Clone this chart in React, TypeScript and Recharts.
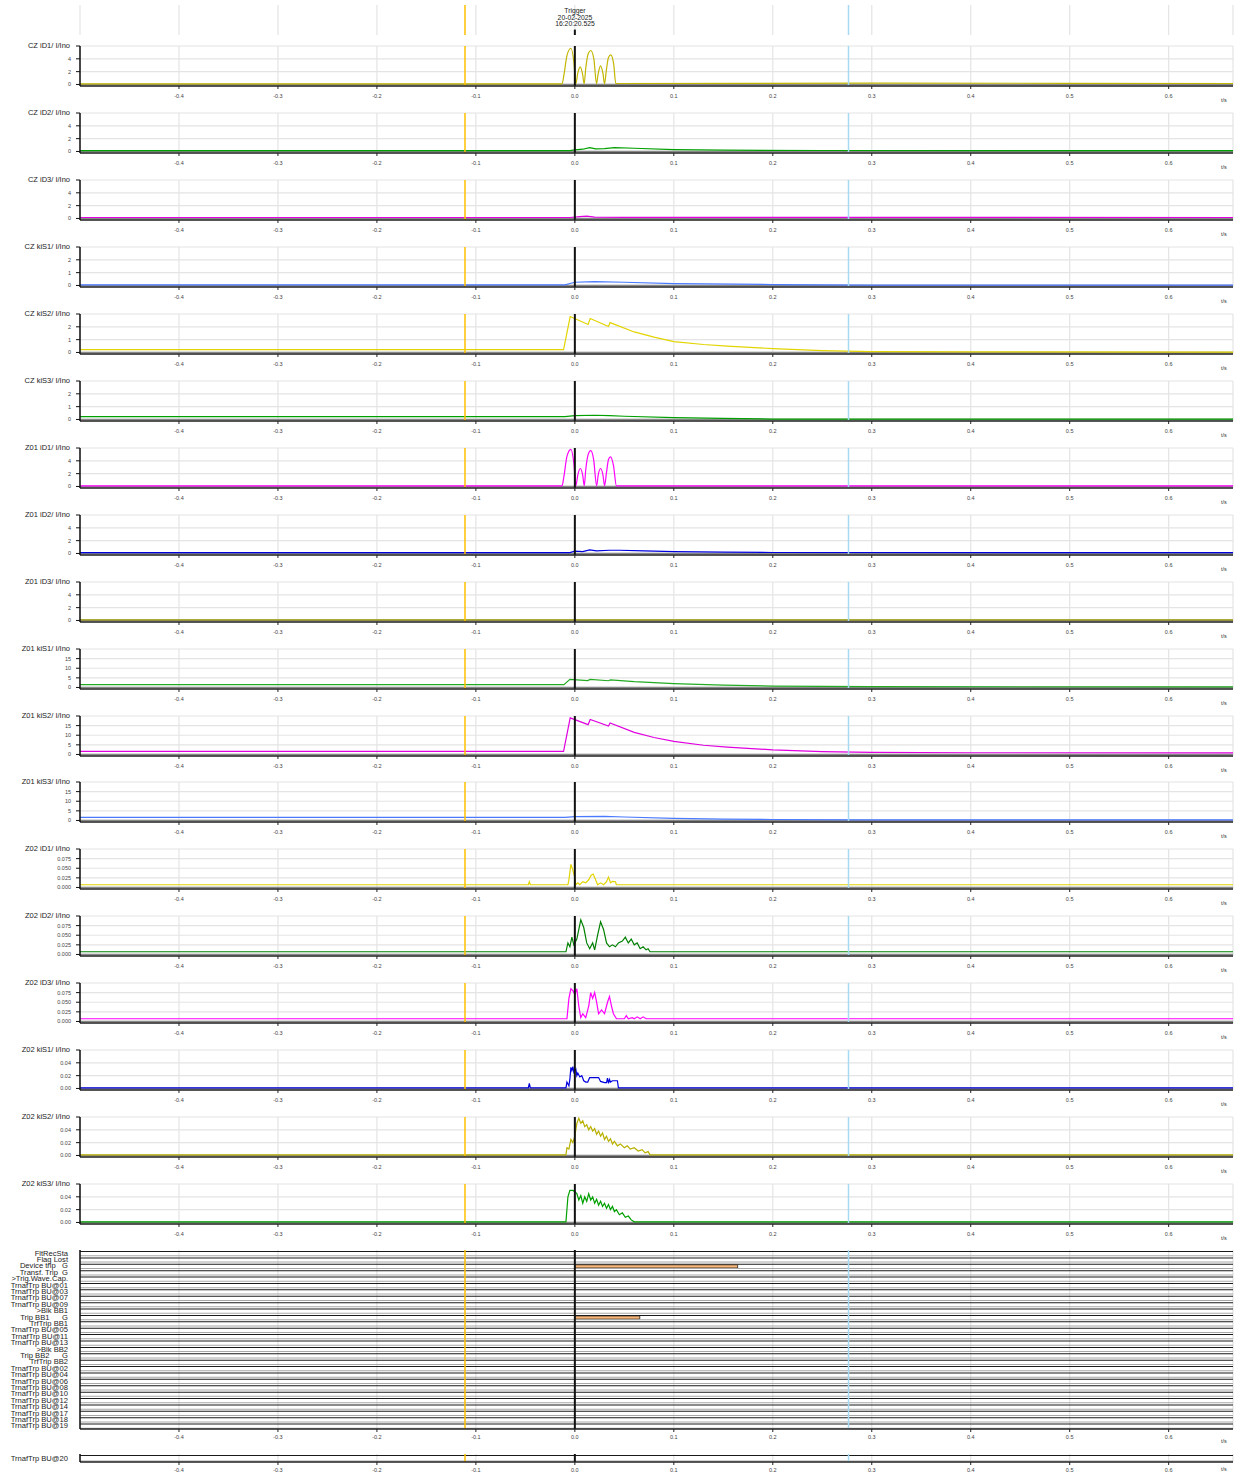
import React from "react";
import { Bar, BarChart, CartesianGrid, Line, LineChart, ReferenceLine, XAxis, YAxis } from "recharts";

// time axis (s), shared by every panel
const timeDomain = [-0.5, 0.665];
const xTicks = [-0.4, -0.3, -0.2, -0.1, 0, 0.1, 0.2, 0.3, 0.4, 0.5, 0.6];
const cursorA = -0.111; // orange cursor
const cursorB = 0.2765; // light blue cursor
const triggerT = 0;
const triggerText = ["Trigger", "20-02-2025", "16:20:20.525"];

// y ticks per panel type
const iDTicks = [0, 2, 4, 6];
const czKiTicks = [0, 1, 2, 3];
const z01KiTicks = [0, 5, 10, 15, 20];
const z02IdTicks = [0, 0.025, 0.05, 0.075, 0.1];
const z02KiTicks = [0, 0.02, 0.04, 0.06];

// [t, value] samples
const czId1 = [[-0.5, 0.08], [-0.013, 0.08], [-0.011, 1.5], [-0.008, 4.5], [-0.004, 5.65], [-0.001, 3.5], [0.001, 0.1], [0.003, 1.8], [0.0054, 2.75], [0.0078, 1.6], [0.0094, 0.1], [0.011, 2.5], [0.0135, 4.8], [0.0161, 5.3], [0.0192, 4.0], [0.0219, 0.1], [0.0235, 1.6], [0.0259, 2.9], [0.0283, 1.8], [0.03, 0.1], [0.0318, 2.2], [0.034, 4.2], [0.0363, 4.6], [0.0392, 3.2], [0.0414, 0.15], [0.3, 0.2], [0.665, 0.15]];
const czId2 = [[-0.5, 0.12], [-0.005, 0.12], [0.0, 0.25], [0.008, 0.35], [0.015, 0.6], [0.021, 0.4], [0.03, 0.45], [0.04, 0.6], [0.06, 0.5], [0.1, 0.3], [0.15, 0.2], [0.25, 0.15], [0.665, 0.12]];
const czId3 = [[-0.5, 0.15], [-0.005, 0.15], [0.005, 0.3], [0.012, 0.35], [0.02, 0.2], [0.05, 0.18], [0.665, 0.15]];
const czKiS1 = [[-0.5, 0.05], [-0.01, 0.05], [0.0, 0.25], [0.02, 0.3], [0.05, 0.25], [0.1, 0.15], [0.2, 0.07], [0.3, 0.03], [0.665, 0.02]];
const czKiS2 = [[-0.5, 0.22], [-0.0114, 0.22], [-0.0047, 2.8], [0.0134, 2.18], [0.0155, 2.65], [0.034, 2.03], [0.0356, 2.33], [0.06, 1.6], [0.08, 1.2], [0.1, 0.85], [0.13, 0.62], [0.154, 0.5], [0.2, 0.3], [0.25, 0.15], [0.3, 0.07], [0.4, 0.04], [0.665, 0.03]];
const czKiS3 = [[-0.5, 0.22], [-0.01, 0.22], [0.0, 0.3], [0.02, 0.33], [0.035, 0.3], [0.05, 0.25], [0.1, 0.15], [0.15, 0.08], [0.2, 0.03], [0.665, 0.02]];
const z01Id1 = [[-0.5, 0.08], [-0.013, 0.08], [-0.011, 1.6], [-0.008, 4.7], [-0.004, 5.8], [-0.001, 3.6], [0.001, 0.1], [0.003, 1.8], [0.0055, 2.8], [0.008, 1.7], [0.0095, 0.1], [0.011, 2.6], [0.0135, 5.0], [0.016, 5.6], [0.019, 4.2], [0.022, 0.1], [0.0235, 1.7], [0.026, 2.8], [0.0285, 1.7], [0.03, 0.1], [0.032, 2.2], [0.034, 4.2], [0.036, 4.6], [0.039, 3.3], [0.042, 0.1], [0.665, 0.08]];
const z01Id2 = [[-0.5, 0.12], [-0.005, 0.12], [0.0, 0.35], [0.008, 0.3], [0.015, 0.55], [0.022, 0.4], [0.035, 0.5], [0.045, 0.5], [0.07, 0.4], [0.1, 0.3], [0.15, 0.2], [0.2, 0.15], [0.665, 0.12]];
const z01Id3 = [[-0.5, 0.1], [0.665, 0.1]];
const z01KiS1 = [[-0.5, 1.5], [-0.011, 1.5], [-0.005, 4.2], [0.013, 3.6], [0.0155, 4.2], [0.034, 3.5], [0.036, 3.9], [0.06, 3.0], [0.1, 2.0], [0.15, 1.2], [0.2, 0.7], [0.3, 0.4], [0.665, 0.3]];
const z01KiS2 = [[-0.5, 1.6], [-0.0114, 1.6], [-0.0047, 19], [0.0134, 15.5], [0.0155, 18.2], [0.034, 14.8], [0.0356, 16.4], [0.06, 11.5], [0.08, 8.8], [0.1, 6.8], [0.13, 4.8], [0.154, 3.8], [0.2, 2.4], [0.25, 1.5], [0.3, 1.1], [0.4, 0.9], [0.665, 0.8]];
const z01KiS3 = [[-0.5, 1.6], [-0.01, 1.6], [0.0, 2.0], [0.03, 2.1], [0.05, 1.8], [0.1, 1.1], [0.15, 0.7], [0.2, 0.5], [0.3, 0.35], [0.665, 0.3]];
const z02Id1 = [[-0.5, 0.007], [-0.047, 0.007], [-0.046, 0.015], [-0.045, 0.007], [-0.007, 0.007], [-0.006, 0.02], [-0.004, 0.06], [-0.002, 0.045], [0.0, 0.025], [0.001, 0.007], [0.003, 0.012], [0.005, 0.007], [0.008, 0.015], [0.011, 0.012], [0.014, 0.02], [0.0165, 0.032], [0.0185, 0.035], [0.021, 0.02], [0.023, 0.007], [0.026, 0.012], [0.029, 0.007], [0.032, 0.015], [0.034, 0.027], [0.036, 0.012], [0.038, 0.016], [0.041, 0.015], [0.042, 0.007], [0.665, 0.007]];
const z02Id2 = [[-0.5, 0.007], [-0.009, 0.007], [-0.007, 0.03], [-0.005, 0.02], [-0.003, 0.045], [-0.001, 0.025], [0.002, 0.04], [0.006, 0.09], [0.009, 0.07], [0.012, 0.03], [0.015, 0.015], [0.018, 0.03], [0.02, 0.012], [0.023, 0.05], [0.026, 0.085], [0.029, 0.065], [0.032, 0.03], [0.035, 0.02], [0.038, 0.025], [0.041, 0.02], [0.044, 0.03], [0.048, 0.035], [0.051, 0.045], [0.054, 0.03], [0.057, 0.04], [0.06, 0.025], [0.063, 0.03], [0.066, 0.015], [0.069, 0.02], [0.072, 0.012], [0.074, 0.015], [0.076, 0.007], [0.665, 0.007]];
const z02Id3 = [[-0.5, 0.007], [-0.008, 0.007], [-0.006, 0.06], [-0.004, 0.085], [-0.002, 0.08], [0.0, 0.07], [0.002, 0.085], [0.004, 0.04], [0.006, 0.01], [0.008, 0.02], [0.011, 0.01], [0.014, 0.04], [0.016, 0.075], [0.018, 0.06], [0.02, 0.075], [0.022, 0.05], [0.024, 0.02], [0.027, 0.03], [0.03, 0.02], [0.033, 0.05], [0.035, 0.065], [0.037, 0.04], [0.039, 0.02], [0.042, 0.007], [0.05, 0.007], [0.052, 0.015], [0.054, 0.007], [0.058, 0.01], [0.06, 0.007], [0.063, 0.012], [0.066, 0.007], [0.069, 0.012], [0.072, 0.007], [0.665, 0.007]];
const z02KiS1 = [[-0.5, 0.001], [-0.047, 0.001], [-0.046, 0.008], [-0.045, 0.001], [-0.009, 0.001], [-0.008, 0.01], [-0.006, 0.004], [-0.005, 0.015], [-0.004, 0.033], [-0.003, 0.028], [-0.002, 0.034], [-0.001, 0.025], [0.001, 0.03], [0.002, 0.02], [0.003, 0.024], [0.005, 0.018], [0.007, 0.02], [0.009, 0.012], [0.011, 0.01], [0.013, 0.01], [0.015, 0.017], [0.024, 0.017], [0.026, 0.011], [0.03, 0.009], [0.032, 0.009], [0.033, 0.016], [0.034, 0.008], [0.035, 0.014], [0.036, 0.01], [0.038, 0.012], [0.043, 0.012], [0.044, 0.001], [0.665, 0.001]];
const z02KiS2 = [[-0.5, 0.001], [-0.009, 0.001], [-0.008, 0.012], [-0.006, 0.01], [-0.004, 0.025], [-0.002, 0.02], [0.0, 0.03], [0.002, 0.05], [0.004, 0.058], [0.006, 0.05], [0.008, 0.054], [0.01, 0.045], [0.012, 0.048], [0.014, 0.04], [0.016, 0.045], [0.018, 0.038], [0.02, 0.042], [0.022, 0.033], [0.024, 0.038], [0.026, 0.03], [0.028, 0.035], [0.03, 0.025], [0.032, 0.03], [0.034, 0.022], [0.036, 0.026], [0.038, 0.018], [0.04, 0.022], [0.043, 0.015], [0.046, 0.018], [0.05, 0.012], [0.053, 0.015], [0.056, 0.01], [0.06, 0.012], [0.064, 0.007], [0.068, 0.009], [0.071, 0.004], [0.074, 0.006], [0.076, 0.001], [0.665, 0.001]];
const z02KiS3 = [[-0.5, 0.001], [-0.009, 0.001], [-0.007, 0.04], [-0.005, 0.05], [-0.002, 0.05], [0.0, 0.048], [0.002, 0.045], [0.004, 0.035], [0.006, 0.042], [0.008, 0.03], [0.01, 0.04], [0.012, 0.033], [0.014, 0.045], [0.016, 0.035], [0.018, 0.04], [0.02, 0.03], [0.022, 0.036], [0.024, 0.027], [0.026, 0.033], [0.028, 0.025], [0.03, 0.03], [0.032, 0.022], [0.034, 0.028], [0.036, 0.02], [0.038, 0.025], [0.04, 0.017], [0.042, 0.02], [0.045, 0.012], [0.048, 0.015], [0.051, 0.008], [0.054, 0.01], [0.057, 0.004], [0.06, 0.001], [0.665, 0.001]];

// binary channels
const binaryNames = [
  "FltRecSta", "Flag Lost", "Device trip   G", "Transf. Trip  G", ">Trig.Wave.Cap.",
  "TrnafTrp BU@01", "TrnafTrp BU@03", "TrnafTrp BU@07", "TrnafTrp BU@09",
  ">Blk BB1", "Trip BB1      G", "TrfTrip BB1",
  "TrnafTrp BU@05", "TrnafTrp BU@11", "TrnafTrp BU@13",
  ">Blk BB2", "Trip BB2      G", "TrfTrip BB2",
  "TrnafTrp BU@02", "TrnafTrp BU@04", "TrnafTrp BU@06", "TrnafTrp BU@08", "TrnafTrp BU@10",
  "TrnafTrp BU@12", "TrnafTrp BU@14", "TrnafTrp BU@17", "TrnafTrp BU@18", "TrnafTrp BU@19",
];
const lastBinaryName = ["TrnafTrp BU@20"];
const recordSpan = [-0.5, 0.665];
const binaryActive: Record<string, number[]> = {
  "Device trip   G": [0, 0.1645],
  "Trip BB1      G": [0, 0.0656],
};

const toPts = (arr: number[][]) => arr.map(([t, v]) => ({ t, v }));

const panels = [
  { title: "CZ iD1/ I/Ino", data: czId1, color: "#c2b600", ticks: iDTicks, digits: 0, curve: "monotone" },
  { title: "CZ iD2/ I/Ino", data: czId2, color: "#00a000", ticks: iDTicks, digits: 0 },
  { title: "CZ iD3/ I/Ino", data: czId3, color: "#e000e0", ticks: iDTicks, digits: 0 },
  { title: "CZ kiS1/ I/Ino", data: czKiS1, color: "#4a7aff", ticks: czKiTicks, digits: 0 },
  { title: "CZ kiS2/ I/Ino", data: czKiS2, color: "#e2d400", ticks: czKiTicks, digits: 0 },
  { title: "CZ kiS3/ I/Ino", data: czKiS3, color: "#00a000", ticks: czKiTicks, digits: 0 },
  { title: "Z01 iD1/ I/Ino", data: z01Id1, color: "#ff00ff", ticks: iDTicks, digits: 0, curve: "monotone" },
  { title: "Z01 iD2/ I/Ino", data: z01Id2, color: "#0000dd", ticks: iDTicks, digits: 0 },
  { title: "Z01 iD3/ I/Ino", data: z01Id3, color: "#9a9a00", ticks: iDTicks, digits: 0 },
  { title: "Z01 kiS1/ I/Ino", data: z01KiS1, color: "#22aa22", ticks: z01KiTicks, digits: 0 },
  { title: "Z01 kiS2/ I/Ino", data: z01KiS2, color: "#e000e0", ticks: z01KiTicks, digits: 0 },
  { title: "Z01 kiS3/ I/Ino", data: z01KiS3, color: "#4a7aff", ticks: z01KiTicks, digits: 0 },
  { title: "Z02 iD1/ I/Ino", data: z02Id1, color: "#e2d400", ticks: z02IdTicks, digits: 3 },
  { title: "Z02 iD2/ I/Ino", data: z02Id2, color: "#008000", ticks: z02IdTicks, digits: 3 },
  { title: "Z02 iD3/ I/Ino", data: z02Id3, color: "#ff00ff", ticks: z02IdTicks, digits: 3 },
  { title: "Z02 kiS1/ I/Ino", data: z02KiS1, color: "#0000dd", ticks: z02KiTicks, digits: 2 },
  { title: "Z02 kiS2/ I/Ino", data: z02KiS2, color: "#b8b000", ticks: z02KiTicks, digits: 2 },
  { title: "Z02 kiS3/ I/Ino", data: z02KiS3, color: "#00a000", ticks: z02KiTicks, digits: 2 },
];

const W = 1238;
const FONT = '"Liberation Sans", Arial, sans-serif';
const tickStyle = { fontSize: 5.5, fill: "#444" };

function markers() {
  return [
    <ReferenceLine key="a" x={cursorA} stroke="#ffc000" strokeWidth={1.5} />,
    <ReferenceLine key="b" x={cursorB} stroke="#a6daf2" strokeWidth={1.5} />,
    <ReferenceLine key="t" x={triggerT} stroke="#111" strokeWidth={2} />,
  ];
}

function timeAxis(margin: number) {
  return (
    <XAxis
      type="number"
      dataKey="t"
      domain={timeDomain}
      ticks={xTicks}
      interval={0}
      allowDataOverflow
      tickFormatter={(v: number) => v.toFixed(1)}
      tick={tickStyle}
      tickSize={3}
      tickMargin={margin}
      height={20}
      axisLine={{ stroke: "#222", strokeWidth: 1.5 }}
      tickLine={{ stroke: "#222" }}
    />
  );
}

function AnalogPanel({ p, top }: { p: any; top: number }) {
  const hi = p.ticks[p.ticks.length - 1];
  return (
    <>
      <div style={{ position: "absolute", top: top - 5, right: W - 70, fontSize: 7.5, lineHeight: "9px", whiteSpace: "nowrap", color: "#222" }}>
        {p.title}
      </div>
      <div style={{ position: "absolute", left: 0, top: top - 2 }}>
        <LineChart width={W} height={62} margin={{ top: 2, right: 5, bottom: 0, left: 0 }}>
          <CartesianGrid stroke="#e4e4e4" strokeWidth={1.2} />
          {timeAxis(5)}
          <YAxis
            type="number"
            domain={[-hi * 0.04, hi]}
            ticks={p.ticks}
            interval={0}
            allowDataOverflow
            width={80}
            tick={tickStyle}
            tickSize={4}
            tickMargin={5}
            tickFormatter={(v: number) => (v === hi ? "" : v.toFixed(p.digits))}
            axisLine={{ stroke: "#111", strokeWidth: 1.5 }}
            tickLine={{ stroke: "#111" }}
          />
          <ReferenceLine y={0} stroke="#888" strokeWidth={1.5} />
          <Line
            data={toPts(p.data)}
            dataKey="v"
            type={p.curve || "linear"}
            stroke={p.color}
            strokeWidth={1.2}
            dot={false}
            activeDot={false}
            isAnimationActive={false}
          />
          {markers()}
        </LineChart>
      </div>
      <div style={{ position: "absolute", left: 1221, top: top + 51, fontSize: 5.5, color: "#333" }}>t/s</div>
    </>
  );
}

function BinTick(props: any) {
  const { x, y, payload } = props;
  return (
    <text x={x} y={y} textAnchor="end" dominantBaseline="central" fontSize={7.6} fill="#222" style={{ whiteSpace: "pre" }}>
      {payload.value}
    </text>
  );
}

function BinaryPanel({ names, top, plotH, tsTop }: { names: string[]; top: number; plotH: number; tsTop: number }) {
  const rows = names.map((name) => ({
    name,
    hi: recordSpan,
    lo: recordSpan,
    on: binaryActive[name] ?? null,
  }));
  return (
    <>
      <div style={{ position: "absolute", left: 0, top: top - 2 }}>
        <BarChart
          layout="vertical"
          width={W}
          height={plotH + 22}
          data={rows}
          margin={{ top: 2, right: 5, bottom: 0, left: 0 }}
          barGap={0.6}
          barCategoryGap={0}
        >
          <CartesianGrid horizontal={false} stroke="#e4e4e4" strokeWidth={1.2} />
          {timeAxis(3)}
          <YAxis
            type="category"
            dataKey="name"
            width={80}
            interval={0}
            tick={<BinTick />}
            tickSize={0}
            tickMargin={12}
            tickLine={false}
            axisLine={{ stroke: "#111", strokeWidth: 1.5 }}
          />
          <Bar dataKey="hi" barSize={1} fill="#1a1a1a" isAnimationActive={false} />
          <Bar dataKey="on" barSize={3.2} fill="#f9b676" stroke="#222" strokeWidth={0.8} isAnimationActive={false} />
          <Bar dataKey="lo" barSize={1} fill="#a8a8a8" isAnimationActive={false} />
          {markers()}
        </BarChart>
      </div>
      <div style={{ position: "absolute", left: 1221, top: tsTop, fontSize: 5.5, color: "#333" }}>t/s</div>
    </>
  );
}

// header strip: cursors and the trigger mark above the first panel
const headerData = recordSpan.map((t) => ({ t, v: 0 }));

function Header() {
  return (
    <>
      <div style={{ position: "absolute", left: 0, top: 4 }}>
        <LineChart width={W} height={32} data={headerData} margin={{ top: 1, right: 5, bottom: 0, left: 0 }}>
          <CartesianGrid horizontal={false} stroke="#e4e4e4" strokeWidth={1.2} />
          <XAxis
            type="number"
            dataKey="t"
            domain={timeDomain}
            ticks={xTicks}
            interval={0}
            height={1}
            tickFormatter={() => ""}
            tickLine={false}
            axisLine={false}
          />
          <YAxis type="number" domain={[0, 1]} width={80} tick={false} tickLine={false} axisLine={false} />
          <Line dataKey="v" stroke="none" dot={false} activeDot={false} isAnimationActive={false} />
          <ReferenceLine x={cursorA} stroke="#ffc000" strokeWidth={1.5} />
          <ReferenceLine x={cursorB} stroke="#a6daf2" strokeWidth={1.5} />
          <ReferenceLine segment={[{ x: triggerT, y: 0 }, { x: triggerT, y: 0.18 }]} stroke="#111" strokeWidth={2} />
        </LineChart>
      </div>
      <div style={{ position: "absolute", left: 525, width: 100, top: 8, textAlign: "center", fontSize: 6.8, lineHeight: "6.6px", color: "#222" }}>
        {triggerText.map((s) => (
          <div key={s}>{s}</div>
        ))}
      </div>
    </>
  );
}

export default function App() {
  return (
    <div style={{ position: "relative", width: W, height: 1474, background: "#fff", fontFamily: FONT, overflow: "hidden" }}>
      <style>{"body{margin:0}"}</style>
      <Header />
      {panels.map((p, i) => (
        <AnalogPanel key={p.title} p={p} top={Math.round(46 + i * 66.95)} />
      ))}
      <BinaryPanel names={binaryNames} top={1250} plotH={179} tsTop={1438} />
      <BinaryPanel names={lastBinaryName} top={1454} plotH={8} tsTop={1466} />
    </div>
  );
}
